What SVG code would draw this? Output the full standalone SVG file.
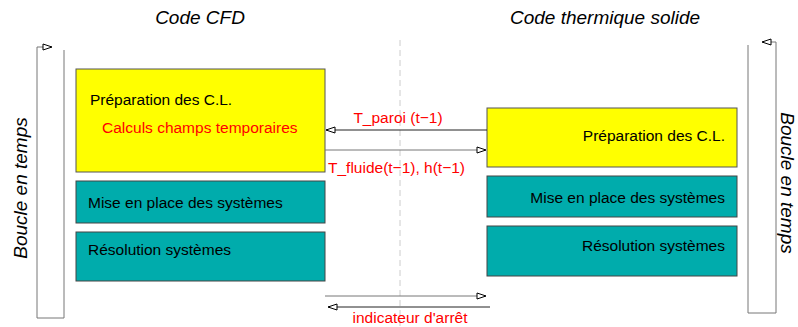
<svg xmlns="http://www.w3.org/2000/svg" width="798" height="327" viewBox="0 0 798 327">
<style>
.t{font-family:"Liberation Sans",Arial,sans-serif;font-size:15.5px;fill:#000}
.r{fill:#ff0000}
.h{font-family:"Liberation Sans",Arial,sans-serif;font-size:19px;font-style:italic;fill:#000}
.y{fill:#ffff00;stroke:#555;stroke-width:1}
.c{fill:#00acac;stroke:#444;stroke-width:1}
.ln{fill:none;stroke:#222;stroke-width:1}
.lg{fill:none;stroke:#777;stroke-width:1}
</style>
<defs>
<marker id="ah" markerUnits="userSpaceOnUse" markerWidth="11" markerHeight="8" refX="10" refY="4" orient="auto" viewBox="0 0 11 8">
<path d="M1,1 L10,4 L1,7 Z" fill="#fff" stroke="#000" stroke-width="1"/>
</marker>
</defs>
<rect width="798" height="327" fill="#fff"/>
<line x1="400" y1="40" x2="400" y2="327" stroke="#ccc" stroke-width="1" stroke-dasharray="6,4"/>
<text class="h" x="200" y="24" text-anchor="middle">Code CFD</text>
<text class="h" x="605" y="24" text-anchor="middle">Code thermique solide</text>
<text class="h" transform="translate(27,188) rotate(-90)" text-anchor="middle">Boucle en temps</text>
<text class="h" transform="translate(781,183) rotate(90)" text-anchor="middle">Boucle en temps</text>
<g id="cfd-prep">
<rect class="y" x="76" y="69" width="249" height="103"/>
<text class="t" x="90" y="105">Préparation des C.L.</text>
<text class="t r" x="102" y="133">Calculs champs temporaires</text>
</g>
<g id="cfd-mise">
<rect class="c" x="76" y="181" width="249" height="42"/>
<text class="t" x="88" y="208">Mise en place des systèmes</text>
</g>
<g id="cfd-resol">
<rect class="c" x="76" y="232" width="249" height="49"/>
<text class="t" x="88" y="255">Résolution systèmes</text>
</g>
<g id="th-prep">
<rect class="y" x="487" y="108" width="250" height="59"/>
<text class="t" x="725" y="141" text-anchor="end">Préparation des C.L.</text>
</g>
<g id="th-mise">
<rect class="c" x="487" y="176" width="250" height="41"/>
<text class="t" x="725" y="203" text-anchor="end">Mise en place des systèmes</text>
</g>
<g id="th-resol">
<rect class="c" x="487" y="226" width="250" height="50"/>
<text class="t" x="725" y="251" text-anchor="end">Résolution systèmes</text>
</g>
<g id="connectors">
<polyline class="lg" points="64,50 64,318 37,318 37,47 52,47" marker-end="url(#ah)"/>
<polyline class="lg" points="748,45 748,313 776,313 776,42 762,42" marker-end="url(#ah)"/>
<line class="ln" x1="487" y1="130" x2="326" y2="130" marker-end="url(#ah)"/>
<line class="lg" x1="325" y1="150" x2="486" y2="150" marker-end="url(#ah)"/>
<line class="lg" x1="325" y1="296" x2="486" y2="296" marker-end="url(#ah)"/>
<line class="ln" x1="490" y1="307" x2="328" y2="307" marker-end="url(#ah)"/>
<text class="t r" x="398" y="123" text-anchor="middle">T_paroi (t−1)</text>
<text class="t r" x="328" y="173">T_fluide(t−1), h(t−1)</text>
<text class="t r" x="410" y="323" text-anchor="middle">indicateur d'arrêt</text>
</g>
</svg>
